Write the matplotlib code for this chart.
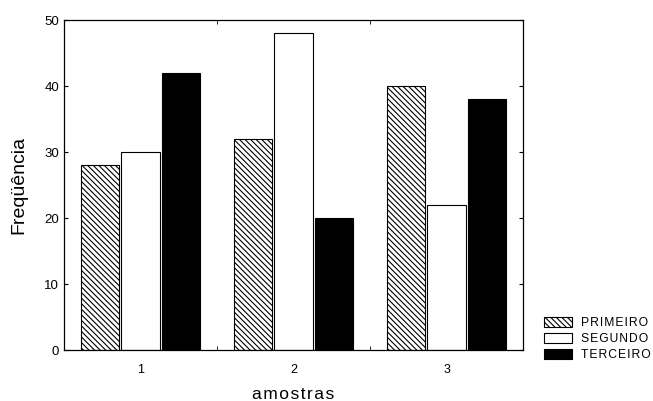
import matplotlib
matplotlib.use("Agg")
import matplotlib.pyplot as plt
import numpy as np

categories = ["1", "2", "3"]
primeiro = [28, 32, 40]
segundo = [30, 48, 22]
terceiro = [42, 20, 38]
series_names = ["PRIMEIRO", "SEGUNDO", "TERCEIRO"]

plt.rcParams['font.family'] = ['Liberation Sans', 'DejaVu Sans']
plt.rcParams['hatch.linewidth'] = 0.8

fig = plt.figure(figsize=(6.53, 4.01), dpi=100)
ax = fig.add_axes([0.098, 0.127, 0.703, 0.823])

x = np.arange(len(categories))
w = 0.252
step = 0.265
b1 = ax.bar(x - step, primeiro, w, facecolor='white', edgecolor='black', hatch='\\\\\\\\\\\\', linewidth=0.8, label=series_names[0])
b2 = ax.bar(x, segundo, w, facecolor='white', edgecolor='black', linewidth=0.8, label=series_names[1])
b3 = ax.bar(x + step, terceiro, w, facecolor='black', edgecolor='black', linewidth=0.8, label=series_names[2])

ax.set_xlim(-0.5, 2.5)
ax.set_ylim(0, 50)
ax.set_xticks(x)
ax.set_xticklabels(categories)
ax.set_xticks([0.5, 1.5], minor=True)
ax.tick_params(axis='x', which='major', length=0, labelsize=9, pad=10)
ax.tick_params(axis='x', which='minor', length=3, direction='in', top=True)
ax.set_yticks([0, 10, 20, 30, 40, 50])
ax.tick_params(axis='y', direction='in', length=3, right=True, labelsize=9.5)
for s in ax.spines.values():
    s.set_linewidth(0.9)

ax.set_ylabel("Freqüência", fontsize=14, labelpad=12)
ax.set_xlabel("\u200a".join("amostras"), fontsize=12.5, labelpad=8)

fig.legend(handles=[b1, b2, b3], labels=["\u200a".join(n) for n in series_names],
           loc='lower left', bbox_to_anchor=(0.816, 0.072), frameon=False, fontsize=8.7,
           handlelength=2.35, handleheight=0.95, handletextpad=0.75, labelspacing=0.3)

fig.savefig("out.png", dpi=100)
